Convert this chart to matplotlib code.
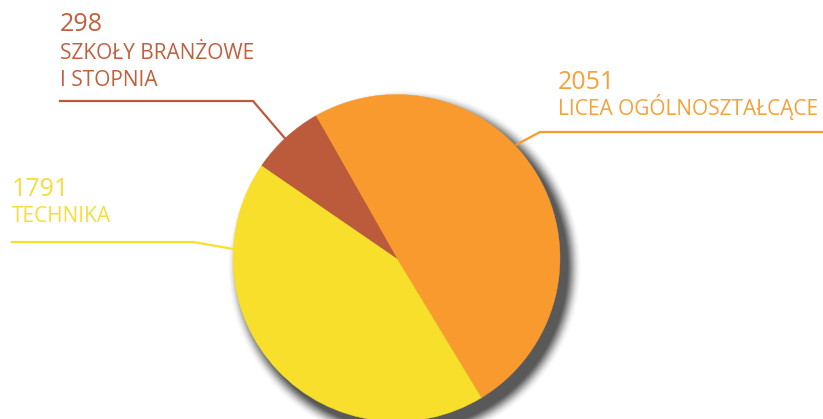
import numpy as np
import matplotlib.pyplot as plt
from matplotlib.patches import Circle

plt.rcParams['font.family'] = ['Open Sans', 'DejaVu Sans']

# data
labels = ['LICEA OGÓLNOSZTAŁCĄCE', 'TECHNIKA', 'SZKOŁY BRANŻOWE\nI STOPNIA']
values = [2051, 1791, 298]
colors = ['#F89A2E', '#F7DF2B', '#BC5B3C']
text_colors = ['#F7A13A', '#F5DD3A', '#C0603F']

W, H = 823, 419
fig = plt.figure(figsize=(W / 100, H / 100), dpi=100)
ax = fig.add_axes([0, 0, 1, 1])

def py(y):
    # pixel row (from top) -> data y
    return H - y

cx, cy, R = 396.5, py(258), 163.5

# soft drop shadow
n = 20
for k in range(n):
    a = 0.16 * (1 - k / n) ** 1.5
    ax.add_patch(Circle((cx + 8, cy - 9), R + k * 0.75, color='#303030',
                        alpha=a, lw=0, zorder=1))

wedges, _ = ax.pie(values, colors=colors, startangle=119.6, counterclock=False,
                   center=(cx, cy), radius=R)
for w in wedges:
    w.set_zorder(3)
    w.set_edgecolor(w.get_facecolor())
    w.set_linewidth(0.3)

# leader lines (pixel coordinates from top)
lines = [
    [(823, 132), (540, 132), (516.7, 144.5)],
    [(12, 242), (193, 242), (233.5, 249)],
    [(60, 101), (253, 101), (285.5, 139)],
]
for pts, c in zip(lines, colors):
    ax.plot([p[0] for p in pts], [py(p[1]) for p in pts], color=c, lw=1.6,
            solid_joinstyle='miter', zorder=2)

# texts
num_pos = [(558, 89.3), (12, 196), (60, 31.5)]
lab_pos = [(558, 115), (12, 221.7), (60, 59.3)]
for v, lab, c, (nx, ny), (lx, ly) in zip(values, labels, text_colors, num_pos, lab_pos):
    ax.text(nx, py(ny), str(v), color=c, fontsize=18, va='baseline', ha='left')
    parts = lab.split('\n')
    for i, p in enumerate(parts):
        ax.text(lx, py(ly + i * 26.4), p, color=c, fontsize=15,
                va='baseline', ha='left')

ax.set_xlim(0, W)
ax.set_ylim(0, H)
ax.set_aspect('auto')
ax.axis('off')

fig.savefig('out.png', dpi=100)
